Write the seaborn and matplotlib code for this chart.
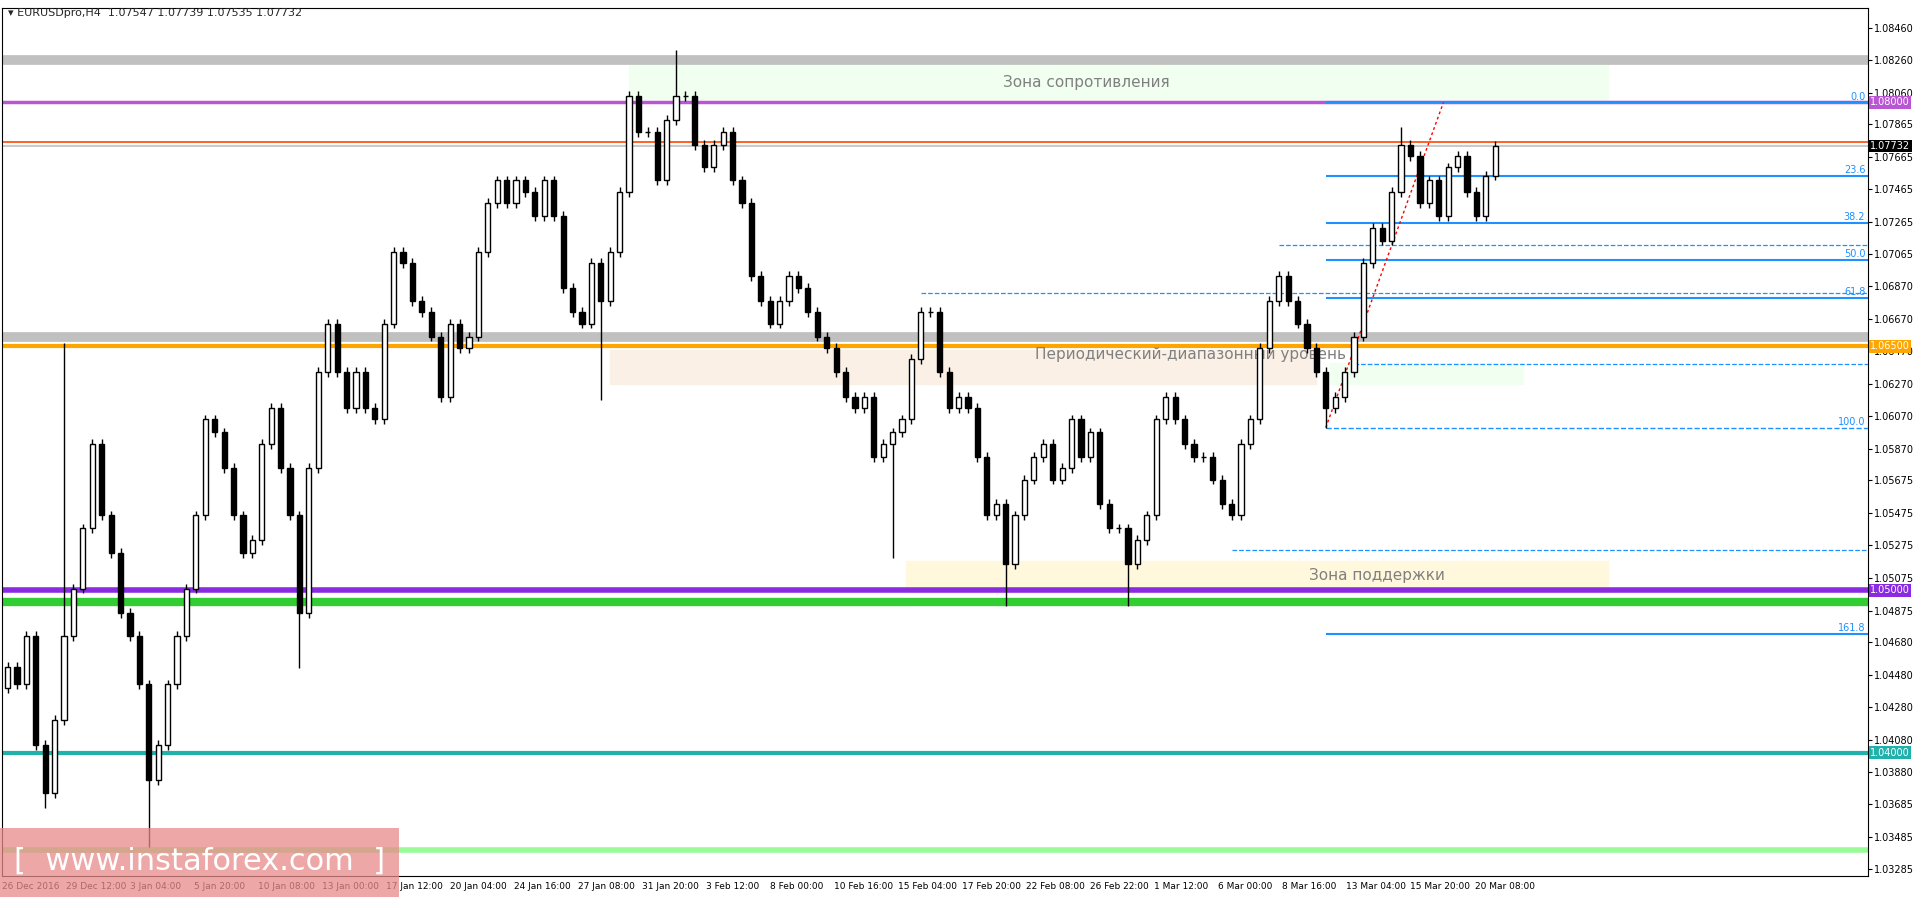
import numpy as np
import seaborn as sns
import matplotlib.pyplot as plt
from matplotlib import transforms

# H4 closing prices
closes = [
    1.0453, 1.0442, 1.0472, 1.0405, 1.0375, 1.0420, 1.0472, 1.0501, 1.0538, 1.0590,
    1.0546, 1.0523, 1.0486, 1.0472, 1.0442, 1.0383, 1.0405, 1.0442, 1.0472, 1.0501,
    1.0546, 1.0605, 1.0597, 1.0575, 1.0546, 1.0523, 1.0531, 1.0590, 1.0612, 1.0575,
    1.0546, 1.0486, 1.0575, 1.0634, 1.0664, 1.0634, 1.0612, 1.0634, 1.0612, 1.0605,
    1.0664, 1.0708, 1.0701, 1.0678, 1.0671, 1.0656, 1.0619, 1.0664, 1.0649, 1.0656,
    1.0708, 1.0738, 1.0752, 1.0738, 1.0752, 1.0745, 1.0730, 1.0752, 1.0730, 1.0686,
    1.0671, 1.0664, 1.0701, 1.0678, 1.0708, 1.0745, 1.0804, 1.0782, 1.0782, 1.0752,
    1.0789, 1.0804, 1.0804, 1.0774, 1.0760, 1.0774, 1.0782, 1.0752, 1.0738, 1.0693,
    1.0678, 1.0664, 1.0678, 1.0693, 1.0686, 1.0671, 1.0656, 1.0649, 1.0634, 1.0619,
    1.0612, 1.0619, 1.0582, 1.0590, 1.0597, 1.0605, 1.0642, 1.0671, 1.0671, 1.0634,
    1.0612, 1.0619, 1.0612, 1.0582, 1.0546, 1.0553, 1.0516, 1.0546, 1.0568, 1.0582,
    1.0590, 1.0568, 1.0575, 1.0605, 1.0582, 1.0597, 1.0553, 1.0538, 1.0538, 1.0516,
    1.0531, 1.0546, 1.0605, 1.0619, 1.0605, 1.0590, 1.0582, 1.0582, 1.0568, 1.0553,
    1.0546, 1.0590, 1.0605, 1.0649, 1.0678, 1.0693, 1.0678, 1.0664, 1.0649, 1.0634,
    1.0612, 1.0619, 1.0634, 1.0656, 1.0701, 1.0723, 1.0715, 1.0745, 1.0774, 1.0767,
    1.0738, 1.0752, 1.0730, 1.0760, 1.0767, 1.0745, 1.0730, 1.0755, 1.0773,
]
first_open = 1.0440

# long shadows
spike_idx = [4, 6, 15, 31, 63, 71, 94, 106, 119, 140, 148]
spike_high = [None, 1.0652, None, None, None, 1.0832, None, None, None, None, 1.0785]
spike_low = [1.0366, None, 1.0342, 1.0452, 1.0617, None, 1.0520, 1.0490, 1.0490, 1.0600, None]

y_ticks = [1.08460, 1.08260, 1.08060, 1.07865, 1.07665, 1.07465, 1.07265, 1.07065,
           1.06870, 1.06670, 1.06470, 1.06270, 1.06070, 1.05870, 1.05675, 1.05475,
           1.05275, 1.05075, 1.04875, 1.04680, 1.04480, 1.04280, 1.04080, 1.03880,
           1.03685, 1.03485, 1.03285]
x_labels = ['26 Dec 2016', '29 Dec 12:00', '3 Jan 04:00', '5 Jan 20:00', '10 Jan 08:00',
            '13 Jan 00:00', '17 Jan 12:00', '20 Jan 04:00', '24 Jan 16:00', '27 Jan 08:00',
            '31 Jan 20:00', '3 Feb 12:00', '8 Feb 00:00', '10 Feb 16:00', '15 Feb 04:00',
            '17 Feb 20:00', '22 Feb 08:00', '26 Feb 22:00', '1 Mar 12:00', '6 Mar 00:00',
            '8 Mar 16:00', '13 Mar 04:00', '15 Mar 20:00', '20 Mar 08:00']

# horizontal levels: price, colour, width
levels = [1.08000, 1.07755, 1.07732, 1.06500, 1.05000, 1.04930, 1.04000, 1.03400]
level_colors = ['#BA55D3', '#FF4500', '#C0C0C0', '#FFA500', '#8A2BE2', '#32CD32', '#20B2AA', '#98FB98']
level_widths = [2.5, 1.2, 1.2, 3, 4, 6, 3, 4]
gray_bands = [1.08260, 1.06555]

fib_values = [1.0800, 1.0755, 1.0726, 1.0703, 1.0680, 1.0600, 1.0473]
fib_names = ['0.0', '23.6', '38.2', '50.0', '61.8', '100.0', '161.8']
fib_dashed = [False, False, False, False, False, True, False]
extra_dashed = [1.0712, 1.0683, 1.0639, 1.0525]
extra_start = [135, 97, 143, 130]

sns.set_style('white')
plt.rcParams['font.family'] = ['DejaVu Sans']

fig = plt.figure(figsize=(19.16, 8.97), dpi=100)
ax = fig.add_axes([0.001, 0.023, 0.974, 0.968])
xmin, xmax = -0.6, 197.6
ax.set_xlim(xmin, xmax)
ax.set_ylim(1.03240, 1.08580)

# zones
ax.fill_between([66, 170], 1.0802, 1.0824, color='#F0FFF0', zorder=0)
ax.fill_between([64, 139], 1.0627, 1.0648, color='#FAF0E6', zorder=0)
ax.fill_between([140.5, 161], 1.0627, 1.0640, color='#F0FFF0', zorder=0)
ax.fill_between([95.4, 170], 1.0499, 1.0518, color='#FFF8DC', zorder=0)
ax.text(114.6, 1.0812, 'Зона сопротивления', color='gray', fontsize=11, ha='center', va='center')
ax.text(125.6, 1.0645, 'Периодический-диапазонный уровень', color='gray', fontsize=11, ha='center', va='center')
ax.text(145.4, 1.0509, 'Зона поддержки', color='gray', fontsize=11, ha='center', va='center')

for b in gray_bands:
    ax.axhline(b, color='#C0C0C0', lw=7, zorder=1)
for p, c, w in zip(levels, level_colors, level_widths):
    ax.axhline(p, color=c, lw=w, zorder=2)

# fibo
for v, n, d in zip(fib_values, fib_names, fib_dashed):
    ax.hlines(v, 140, xmax, color='#1E90FF', lw=1 if d else 1.5, ls='--' if d else '-', zorder=3)
    ax.text(xmax - 0.3, v + 0.00005, n, color='#1E90FF', fontsize=7, ha='right', va='bottom')
for v, s in zip(extra_dashed, extra_start):
    ax.hlines(v, s, xmax, color='#1E90FF', lw=0.9, ls='--', zorder=3)
ax.plot([140, 152.5], [1.0600, 1.0800], color='red', lw=1, ls=(0, (2, 2)), zorder=4)

# candles
closes = np.array(closes)
opens = np.concatenate([[first_open], closes[:-1]])
highs = np.maximum(opens, closes) + 0.0003
lows = np.minimum(opens, closes) - 0.0003
for i, h, l in zip(spike_idx, spike_high, spike_low):
    if h is not None:
        highs[i] = h
    if l is not None:
        lows[i] = l
x = np.arange(len(closes))
ax.vlines(x, lows, highs, color='black', lw=1, zorder=5)
up = closes >= opens
ax.bar(x[up], (closes - opens)[up], bottom=opens[up], width=0.55,
       color='white', edgecolor='black', lw=1, zorder=6)
ax.bar(x[~up], (closes - opens)[~up], bottom=opens[~up], width=0.55,
       color='black', edgecolor='black', lw=1, zorder=6)

# axes
ax.yaxis.tick_right()
ax.set_yticks(y_ticks)
ax.set_yticklabels([f'{t:.5f}' for t in y_ticks], fontsize=7)
ax.set_xticks(np.arange(len(x_labels)) * 6.8 - 0.6)
ax.set_xticklabels(x_labels, fontsize=6.5, ha='left')
ax.tick_params(axis='both', length=3, direction='out', pad=1, colors='black')
for s in ax.spines.values():
    s.set_color('black')

trans = transforms.blended_transform_factory(ax.transAxes, ax.transData)
for p, bg, fg in [(1.08000, '#BA55D3', 'white'), (1.07732, 'black', 'white'),
                  (1.06500, '#FFA500', 'white'), (1.05000, '#8A2BE2', 'white'),
                  (1.04000, '#20B2AA', 'white')]:
    ax.text(1.001, p, f'{p:.5f}', transform=trans, fontsize=7, color=fg, va='center', ha='left',
            bbox=dict(boxstyle='square,pad=0.15', fc=bg, ec='none'), zorder=10, clip_on=False)

fig.text(0.004, 0.985, '▾ EURUSDpro,H4  1.07547 1.07739 1.07535 1.07732', fontsize=8, va='center')

# watermark
fig.patches.append(plt.Rectangle((0.0, 0.0), 0.208, 0.077, transform=fig.transFigure,
                                 facecolor='#E88A8A', alpha=0.75, edgecolor='none', zorder=20))
fig.text(0.104, 0.04, '[  www.instaforex.com  ]', fontsize=22, color='white', ha='center',
         va='center', zorder=21)

fig.savefig('out.png', dpi=100)
